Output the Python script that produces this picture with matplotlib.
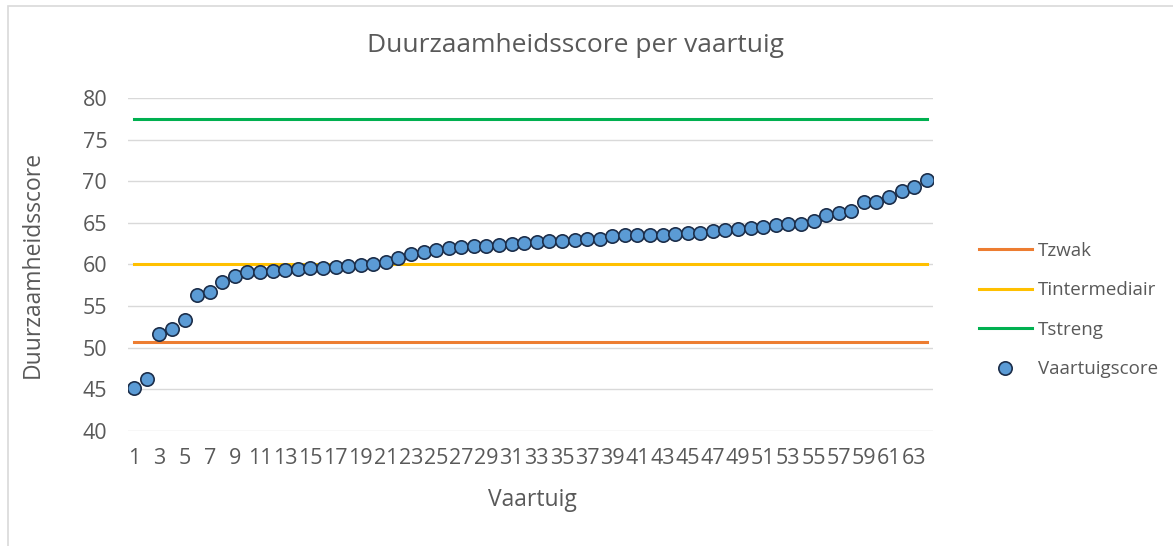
import matplotlib
matplotlib.use("Agg")
import matplotlib.pyplot as plt
from matplotlib.patches import Rectangle
import numpy as np

# ---- data ----
vaartuig = list(range(1, 65))
scores = [45.2, 46.3, 51.7, 52.2, 53.3, 56.3, 56.7, 57.9, 58.6, 59.1,
          59.1, 59.2, 59.3, 59.4, 59.6, 59.6, 59.7, 59.8, 59.9, 60.1,
          60.25, 60.8, 61.3, 61.45, 61.7, 61.95, 62.1, 62.2, 62.2, 62.3,
          62.5, 62.55, 62.7, 62.85, 62.85, 62.9, 63.1, 63.1, 63.4, 63.5,
          63.5, 63.55, 63.6, 63.7, 63.75, 63.75, 64.0, 64.2, 64.3, 64.35,
          64.5, 64.8, 64.85, 64.85, 65.2, 66.0, 66.2, 66.4, 67.45, 67.5,
          68.1, 68.85, 69.3, 70.1]
t_zwak = 50.65
t_intermediair = 60.0
t_streng = 77.45
y_ticks = [40, 45, 50, 55, 60, 65, 70, 75, 80]
x_tick_labels = [str(v) for v in vaartuig[::2]]

title = "Duurzaamheidsscore per vaartuig"
xlabel = "Vaartuig"
ylabel = "Duurzaamheidsscore"

# ---- style ----
plt.rcParams['font.family'] = ['Open Sans', 'DejaVu Sans']
txt = '#595959'
W, H = 1173, 546
fig = plt.figure(figsize=(W / 100, H / 100), dpi=100)
fig.patch.set_facecolor('white')

# chart border
fig.patches.append(Rectangle((8 / W, -0.05), 1.2, 1 - 6 / H + 0.05, transform=fig.transFigure,
                             fill=False, edgecolor='#d9d9d9', linewidth=1.2, zorder=0))

left, right = 128 / W, 933 / W
bottom, top = 1 - 431 / H, 1 - 98 / H
ax = fig.add_axes([left, bottom, right - left, top - bottom])
ax.set_xlim(0.5, len(vaartuig) + 0.5)
ax.set_ylim(40, 80)
ax.set_yticks(y_ticks)
ax.set_yticklabels([str(v) for v in y_ticks])
ax.set_xticks(vaartuig[::2])
ax.set_xticklabels(x_tick_labels)
ax.grid(axis='y', color='#d9d9d9', linewidth=1.0)
ax.set_axisbelow(True)
for s in ax.spines.values():
    s.set_visible(False)
ax.tick_params(axis='both', length=0, colors=txt, labelsize=15.5)
ax.tick_params(axis='y', pad=15)
ax.tick_params(axis='x', pad=12)

n = len(vaartuig)
ax.plot(vaartuig, [t_zwak] * n, color='#ED7D31', linewidth=2.2, label='Tzwak', zorder=2)
ax.plot(vaartuig, [t_intermediair] * n, color='#FFC000', linewidth=2.2, label='Tintermediair', zorder=2)
ax.plot(vaartuig, [t_streng] * n, color='#00B050', linewidth=2.2, label='Tstreng', zorder=2)
ax.plot(vaartuig, scores, linestyle='none', marker='o', markersize=9.6,
        markerfacecolor='#5B9BD5', markeredgecolor='#1C2E4A', markeredgewidth=1.2,
        label='Vaartuigscore', zorder=3)

fig.text(575 / W, 1 - 45 / H, title, ha='center', va='center',
         fontsize=19, color=txt)
fig.text(532 / W, 1 - 500 / H, xlabel, ha='center', va='center', fontsize=16.5, color=txt)
fig.text(33 / W, 1 - 264 / H, ylabel, ha='center', va='center', rotation=90,
         fontsize=16.5, color=txt)

leg = ax.legend(loc='center left', bbox_to_anchor=(979 / W, 1 - 310 / H),
                bbox_transform=fig.transFigure, frameon=False, fontsize=13.5,
                handlelength=2.8, handletextpad=0.35, labelspacing=1.15,
                borderaxespad=0, borderpad=0)
for t in leg.get_texts():
    t.set_color(txt)

fig.savefig('out.png', dpi=100, facecolor='white')
